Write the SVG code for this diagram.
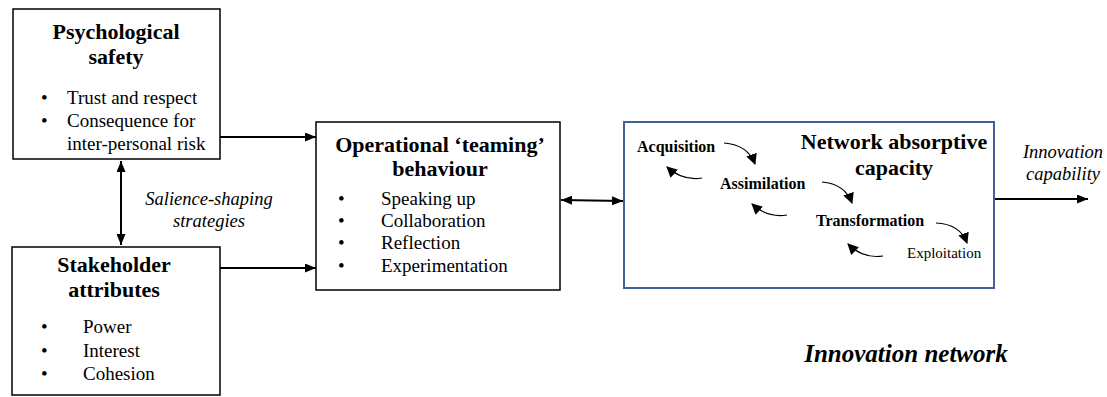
<svg xmlns="http://www.w3.org/2000/svg" width="1107" height="397" viewBox="0 0 1107 397">
<defs>
<style>
.box{fill:#fff;stroke:#000;stroke-width:1.5}
.bluebox{fill:#fff;stroke:#41619a;stroke-width:2}
.t{font-family:'Liberation Serif','DejaVu Serif',serif;fill:#000}
.title{font-size:22px;font-weight:bold;text-anchor:middle}
.body{font-size:19px}
.it{font-style:italic}
.ln{stroke:#000;stroke-width:2;fill:none}
.cv{stroke:#000;stroke-width:1.2;fill:none}
</style>
<marker id="ah" markerUnits="userSpaceOnUse" markerWidth="11" markerHeight="9" refX="11" refY="4.5" orient="auto-start-reverse"><path d="M0,0 L11,4.5 L0,9 z" fill="#000"/></marker>
<marker id="ch" markerUnits="userSpaceOnUse" markerWidth="12" markerHeight="11" refX="10" refY="5.5" orient="auto"><path d="M0,0 L11,5.5 L0,11 z" fill="#000"/></marker>
</defs>
<rect width="1107" height="397" fill="#fff"/>

<g id="connectors" font-family="Liberation Serif, serif">
<line class="ln" x1="220" y1="137" x2="316" y2="137" marker-end="url(#ah)"/>
<line class="ln" x1="220" y1="268" x2="316" y2="268" marker-end="url(#ah)"/>
<line class="ln" x1="121" y1="161" x2="121" y2="245" marker-start="url(#ah)" marker-end="url(#ah)"/>
<line class="ln" x1="561" y1="200" x2="623" y2="201" marker-start="url(#ah)" marker-end="url(#ah)"/>
<line class="ln" x1="995" y1="199" x2="1088" y2="199" marker-end="url(#ah)"/>
<text class="t it" x="209" y="205" font-size="18.5" text-anchor="middle">Salience-shaping</text>
<text class="t it" x="209" y="227" font-size="18.5" text-anchor="middle">strategies</text>
<text class="t it" x="1063" y="158" font-size="18.5" text-anchor="middle">Innovation</text>
<text class="t it" x="1063" y="180" font-size="18.5" text-anchor="middle">capability</text>
</g>

<g id="psychological-safety" font-family="Liberation Serif, serif">
<rect class="box" x="13" y="9" width="207" height="150"/>
<text class="t title" x="116" y="39">Psychological</text>
<text class="t title" x="116" y="64">safety</text>
<text class="t body" x="41" y="104">•</text>
<text class="t body" x="67" y="104">Trust and respect</text>
<text class="t body" x="41" y="127">•</text>
<text class="t body" x="67" y="127">Consequence for</text>
<text class="t body" x="67" y="150">inter-personal risk</text>
</g>

<g id="stakeholder-attributes" font-family="Liberation Serif, serif">
<rect class="box" x="12" y="247" width="208" height="148"/>
<text class="t title" x="114" y="272">Stakeholder</text>
<text class="t title" x="114" y="297">attributes</text>
<text class="t body" x="41" y="333">•</text>
<text class="t body" x="83" y="333">Power</text>
<text class="t body" x="41" y="357">•</text>
<text class="t body" x="83" y="357">Interest</text>
<text class="t body" x="41" y="380">•</text>
<text class="t body" x="83" y="380">Cohesion</text>
</g>

<g id="operational-teaming" font-family="Liberation Serif, serif">
<rect class="box" x="316" y="122" width="244" height="168"/>
<text class="t title" x="440" y="152" font-size="21.5">Operational ‘teaming’</text>
<text class="t title" x="440" y="176" font-size="21.5">behaviour</text>
<text class="t body" x="338" y="205">•</text>
<text class="t body" x="381" y="205">Speaking up</text>
<text class="t body" x="338" y="227">•</text>
<text class="t body" x="381" y="227">Collaboration</text>
<text class="t body" x="338" y="249">•</text>
<text class="t body" x="381" y="249">Reflection</text>
<text class="t body" x="338" y="272">•</text>
<text class="t body" x="381" y="272">Experimentation</text>
</g>

<g id="network-absorptive-capacity" font-family="Liberation Serif, serif">
<rect class="bluebox" x="624" y="122" width="370" height="166"/>
<text class="t title" x="894" y="149">Network absorptive</text>
<text class="t title" x="894" y="175">capacity</text>
<text class="t" x="637" y="152" font-size="16" font-weight="bold">Acquisition</text>
<text class="t" x="720" y="189" font-size="16" font-weight="bold">Assimilation</text>
<text class="t" x="816" y="226" font-size="16" font-weight="bold">Transformation</text>
<text class="t" x="907" y="258" font-size="15">Exploitation</text>
<path class="cv" d="M724,143 Q748,145 755,164" marker-end="url(#ch)"/>
<path class="cv" d="M702,178 Q682,181 667,167" marker-end="url(#ch)"/>
<path class="cv" d="M822,182 Q845,184 852,203" marker-end="url(#ch)"/>
<path class="cv" d="M787,215 Q767,218 752,204" marker-end="url(#ch)"/>
<path class="cv" d="M936,223 Q960,224 967,243" marker-end="url(#ch)"/>
<path class="cv" d="M883,256 Q863,259 848,244" marker-end="url(#ch)"/>
</g>

<text x="906" y="362" font-family="Liberation Serif, serif" font-size="25" font-weight="bold" font-style="italic" text-anchor="middle">Innovation network</text>
</svg>
